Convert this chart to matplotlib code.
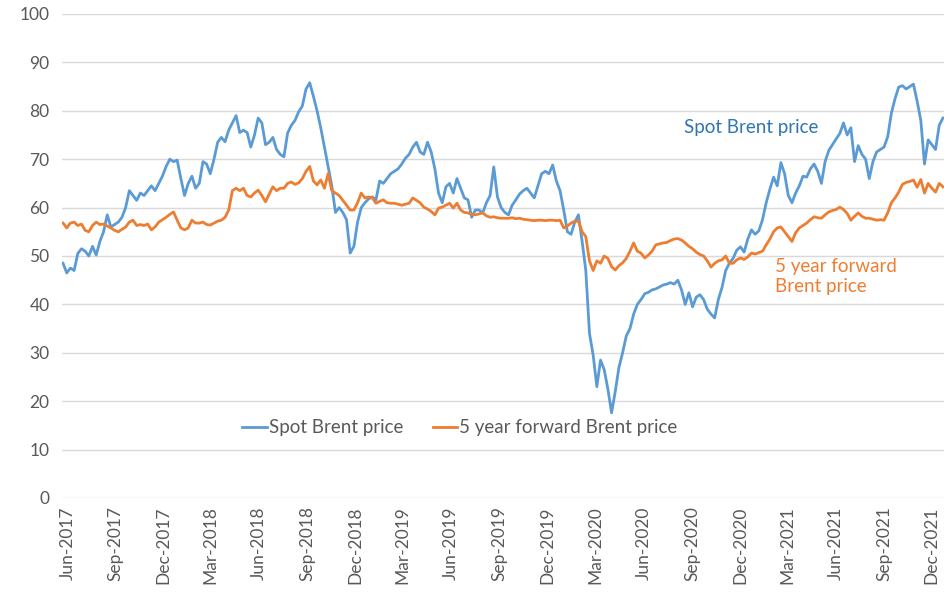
import pandas as pd
import matplotlib
matplotlib.use("Agg")
import matplotlib.pyplot as plt
import matplotlib.dates as md

plt.rcParams['font.family'] = ['Lato', 'DejaVu Sans']

# weekly observations, first one in late May 2017
start_date = "2017-05-24"

spot = [
    48.5, 46.5, 47.5, 47.0, 50.5, 51.5, 51.0, 50.0, 52.0, 50.2,
    53.0, 55.0, 58.5, 56.0, 56.5, 57.0, 58.0, 60.0, 63.5, 62.5,
    61.5, 63.0, 62.5, 63.5, 64.5, 63.5, 65.0, 66.5, 68.5, 70.0,
    69.5, 69.8, 66.0, 62.5, 65.0, 66.5, 64.0, 65.0, 69.5, 69.0,
    67.0, 70.0, 73.5, 74.5, 73.6, 76.0, 77.5, 79.0, 75.5, 76.0,
    75.5, 72.5, 75.0, 78.5, 77.5, 73.0, 73.5, 74.5, 72.0, 71.0,
    70.5, 75.4, 77.0, 78.0, 79.8, 81.0, 84.5, 85.8, 83.0, 80.0,
    76.5, 72.5, 68.5, 64.5, 59.0, 60.0, 59.0, 57.5, 50.6, 52.0,
    57.0, 60.0, 61.0, 61.8, 62.2, 61.6, 65.5, 65.0, 66.0, 67.0,
    67.5, 68.0, 69.0, 70.2, 71.0, 72.5, 73.5, 71.5, 71.0, 73.5,
    71.5, 68.0, 63.0, 61.0, 64.3, 65.0, 63.0, 66.0, 64.0, 62.0,
    61.6, 58.0, 59.5, 59.5, 58.9, 61.0, 62.5, 68.4, 62.2, 60.0,
    59.0, 58.5, 60.5, 61.6, 62.8, 63.5, 64.0, 63.0, 62.0, 64.5,
    67.0, 67.5, 67.0, 68.8, 65.5, 63.5, 59.5, 55.0, 54.5, 57.0,
    58.5, 53.0, 47.0, 34.0, 29.5, 23.0, 28.5, 26.5, 22.5, 17.6,
    22.0, 27.0, 30.0, 33.5, 35.0, 38.0, 40.0, 41.0, 42.2, 42.5,
    43.0, 43.2, 43.6, 44.0, 44.2, 44.5, 44.2, 45.0, 43.0, 40.0,
    42.4, 39.5, 41.5, 42.0, 41.0, 39.0, 38.0, 37.2, 41.0, 43.5,
    47.0, 48.5, 49.5, 51.2, 51.9, 50.8, 53.5, 55.4, 54.5, 55.2,
    57.5, 61.0, 63.8, 66.3, 64.5, 69.3, 67.0, 62.5, 61.0, 63.0,
    64.5, 66.5, 66.3, 68.0, 69.0, 67.5, 65.0, 69.5, 71.8, 73.0,
    74.2, 75.3, 77.5, 75.0, 76.5, 69.5, 72.8, 71.0, 70.0, 66.0,
    69.5, 71.5, 72.0, 72.5, 74.6, 79.5, 82.5, 84.9, 85.2, 84.5,
    85.0, 85.5, 82.0, 78.0, 69.0, 74.0, 73.0, 72.0, 77.0, 78.5,
]

forward = [
    56.8, 55.8, 56.8, 57.0, 56.3, 56.6, 55.3, 55.0, 56.3, 57.0,
    56.5, 56.6, 56.2, 55.8, 55.3, 55.0, 55.5, 56.0, 57.0, 57.4,
    56.3, 56.5, 56.3, 56.6, 55.4, 56.0, 57.0, 57.5, 58.0, 58.6,
    59.1, 57.4, 55.8, 55.4, 55.8, 57.4, 56.8, 56.8, 57.0, 56.5,
    56.4, 56.8, 57.2, 57.4, 58.0, 59.5, 63.5, 64.0, 63.5, 64.0,
    62.5, 62.2, 63.0, 63.6, 62.5, 61.2, 62.8, 64.3, 63.5, 64.0,
    64.0, 65.0, 65.3, 64.8, 65.1, 66.0, 67.5, 68.5, 65.5, 64.7,
    65.7, 64.0, 67.0, 63.5, 63.0, 62.5, 61.5, 60.5, 59.5, 59.5,
    61.0, 63.0, 62.0, 62.2, 62.0, 60.9, 61.3, 61.6, 61.0, 60.9,
    60.9, 60.7, 60.5, 60.7, 60.9, 62.0, 61.5, 61.0, 60.1, 59.7,
    59.2, 58.5, 59.9, 60.1, 60.5, 60.9, 59.9, 60.9, 59.5, 59.0,
    58.9, 58.6, 58.5, 58.7, 58.9, 58.3, 58.0, 58.1, 57.9, 57.8,
    57.8, 57.8, 57.9, 57.7, 57.8, 57.6, 57.5, 57.4, 57.3, 57.4,
    57.4, 57.3, 57.4, 57.4, 57.3, 57.4, 55.8, 56.2, 56.8, 57.2,
    57.2, 55.0, 54.0, 49.0, 47.0, 49.0, 48.5, 50.0, 49.5, 47.8,
    47.1, 48.0, 48.6, 49.5, 51.0, 52.7, 51.0, 50.6, 49.6, 50.2,
    51.0, 52.3, 52.5, 52.7, 52.8, 53.2, 53.5, 53.6, 53.3, 52.7,
    52.0, 51.5, 50.8, 50.3, 50.0, 49.0, 47.7, 48.5, 49.0, 49.2,
    50.0, 48.5, 48.5, 49.2, 49.6, 49.3, 49.8, 50.6, 50.4, 50.7,
    51.0, 52.3, 53.5, 55.0, 55.8, 56.0, 55.0, 54.0, 53.0, 54.8,
    55.8, 56.3, 56.8, 57.5, 58.1, 57.9, 57.8, 58.5, 59.1, 59.4,
    59.6, 60.1, 59.6, 58.8, 57.4, 58.2, 58.9, 58.2, 57.8, 57.8,
    57.6, 57.4, 57.5, 57.4, 58.9, 61.0, 62.0, 63.2, 64.8, 65.2,
    65.4, 65.7, 64.2, 65.8, 63.0, 65.0, 64.0, 63.2, 65.0, 64.3,
]

dates = pd.date_range(start_date, periods=len(spot), freq="7D")

blue = "#5B9BD5"
orange = "#ED7D31"
grey = "#595959"

fig = plt.figure(figsize=(9.45, 5.92), dpi=100)
ax = fig.add_axes([62 / 945, 1 - 498 / 592, (945 - 62) / 945, (498 - 14) / 592])

ax.plot(dates, spot, color=blue, lw=2.0, label="Spot Brent price")
ax.plot(dates, forward, color=orange, lw=2.0, label="5 year forward Brent price")

ax.set_ylim(0, 100)
ax.set_yticks(range(0, 101, 10))
ax.set_xlim(pd.Timestamp("2017-05-22"), pd.Timestamp("2021-12-26"))

ticks = pd.date_range("2017-06-01", "2021-12-01", freq="3MS")
ax.set_xticks(ticks)
ax.xaxis.set_major_formatter(md.DateFormatter("%b-%Y"))
plt.setp(ax.get_xticklabels(), rotation=90, ha="center", va="top")

ax.grid(axis="y", color="#D9D9D9", lw=1.0)
ax.set_axisbelow(True)
for s in ax.spines.values():
    s.set_visible(False)
ax.tick_params(length=0, labelsize=12.5, colors=grey)
ax.tick_params(axis="y", pad=9)
ax.tick_params(axis="x", pad=6)

ax.legend(loc="center", bbox_to_anchor=(460 / 945, 1 - 428 / 592),
          bbox_transform=fig.transFigure, ncol=2, frameon=False,
          fontsize=13.5, labelcolor=grey, handlelength=1.3, handletextpad=0.1,
          columnspacing=1.6)

ax.text(pd.Timestamp("2020-08-16"), 76.5, "Spot Brent price", color="#2E75B6",
        fontsize=13.5, va="center")
ax.text(pd.Timestamp("2021-02-05"), 49.5, "5 year forward\nBrent price",
        color=orange, fontsize=13.5, va="top", linespacing=1.2)

fig.savefig("out.png", dpi=100)
